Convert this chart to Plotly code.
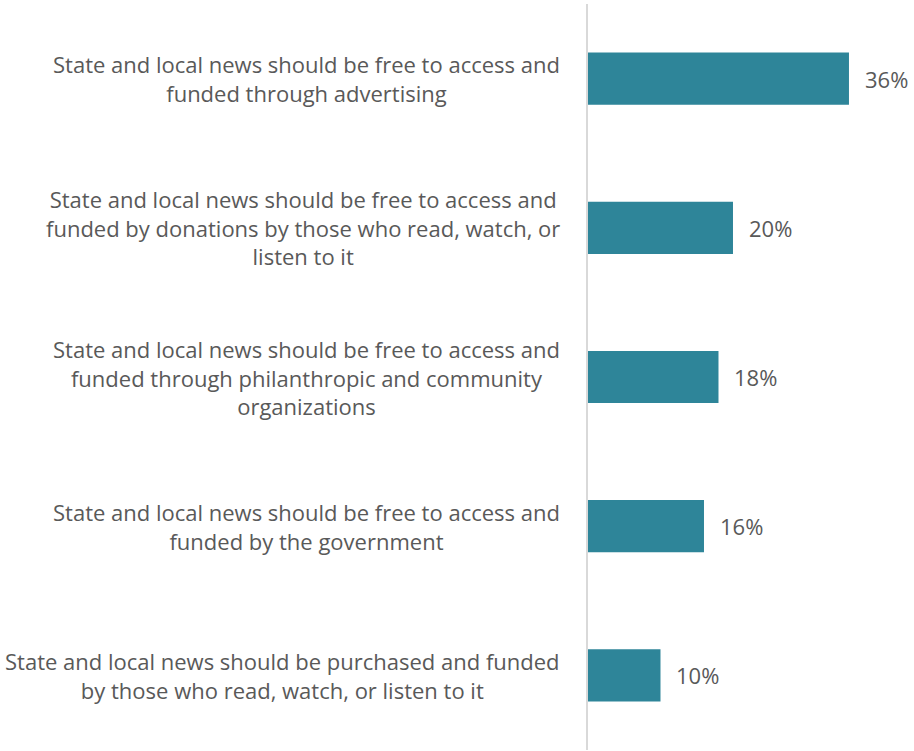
import plotly.graph_objects as go

labels = [
    "State and local news should be free to access and<br>funded through advertising",
    "State and local news should be free to access and<br>"
    "funded by donations by those who read, watch, or<br>listen to it",
    "State and local news should be free to access and<br>"
    "funded through philanthropic and community<br>organizations",
    "State and local news should be free to access and<br>funded by the government",
    "State and local news should be purchased and funded<br>"
    "by those who read, watch, or listen to it",
]
values = [36, 20, 18, 16, 10]

BAR = '#2e8599'
TEXT = '#595959'
FONT = 'Open Sans'
SIZE = 22

cats = list(range(len(values)))

fig = go.Figure(go.Bar(
    x=values,
    y=cats,
    orientation='h',
    width=0.35,
    marker=dict(color=BAR, line=dict(width=0)),
    hoverinfo='skip',
))

annotations = []
for i, label in enumerate(labels):
    annotations.append(dict(
        x=0, y=i, xref='x', yref='y',
        text=label, showarrow=False, align='center',
        xanchor='right', yanchor='middle', xshift=-26,
        font=dict(family=FONT, size=SIZE, color=TEXT),
    ))
    annotations.append(dict(
        x=values[i], y=i, xref='x', yref='y',
        text='%d%%' % values[i], showarrow=False,
        xanchor='left', yanchor='middle', xshift=14,
        font=dict(family=FONT, size=SIZE, color=TEXT),
    ))

fig.update_layout(
    width=914, height=751,
    margin=dict(l=588, r=0, t=4, b=1),
    paper_bgcolor='white', plot_bgcolor='white',
    showlegend=False,
    annotations=annotations,
    xaxis=dict(range=[0, 44.97], visible=False, fixedrange=True),
    yaxis=dict(
        range=[4.5, -0.5], showticklabels=False, showgrid=False, zeroline=False,
        showline=True, linecolor='#d9d9d9', linewidth=2, ticks='', fixedrange=True,
    ),
)

# page body has a default 8px margin; drop it so the figure fills the window
fig.write_html("out.html", config={'displayModeBar': False},
               post_script="document.body.style.margin='0';")
